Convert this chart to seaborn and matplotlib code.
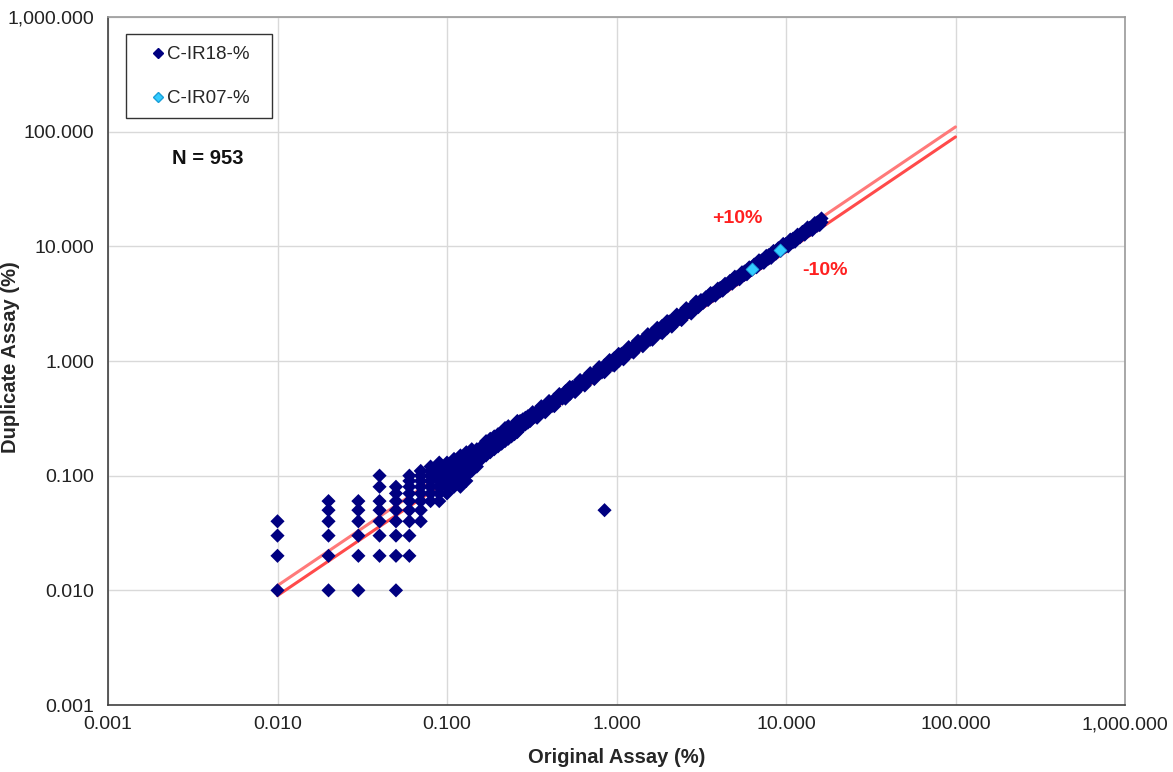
import numpy as np
import pandas as pd
import matplotlib
matplotlib.use("Agg")
import matplotlib.pyplot as plt
import seaborn as sns
from matplotlib.ticker import FuncFormatter, LogLocator, NullLocator
from matplotlib.lines import Line2D
from matplotlib.patches import Rectangle

# ---------------- data ----------------
# low-grade grid (original value -> list of duplicate values)
low_orig = [0.01, 0.02, 0.03, 0.04, 0.05, 0.06, 0.07, 0.08, 0.09, 0.10]
low_dups = [
    [0.01, 0.02, 0.03, 0.04],
    [0.01, 0.02, 0.03, 0.04, 0.05, 0.06],
    [0.01, 0.02, 0.03, 0.04, 0.05, 0.06],
    [0.02, 0.03, 0.04, 0.05, 0.06, 0.08, 0.10],
    [0.01, 0.02, 0.03, 0.04, 0.05, 0.06, 0.07, 0.08],
    [0.02, 0.03, 0.04, 0.05, 0.06, 0.07, 0.08, 0.09, 0.10],
    [0.04, 0.05, 0.06, 0.07, 0.08, 0.09, 0.10, 0.11],
    [0.06, 0.07, 0.08, 0.09, 0.10, 0.11, 0.12],
    [0.06, 0.07, 0.08, 0.09, 0.10, 0.11, 0.12, 0.13],
    [0.07, 0.08, 0.09, 0.10, 0.11, 0.12, 0.13],
]

mid_orig = [0.11, 0.12, 0.13, 0.14, 0.15, 0.16, 0.17, 0.18, 0.19, 0.20,
            0.21, 0.22, 0.23, 0.24, 0.25, 0.26, 0.27, 0.28, 0.29, 0.30]
mid_dups = [
    [0.08, 0.09, 0.10, 0.11, 0.12, 0.13, 0.14],
    [0.08, 0.09, 0.10, 0.12, 0.13, 0.14, 0.15],
    [0.09, 0.10, 0.11, 0.13, 0.14, 0.15, 0.16],
    [0.11, 0.12, 0.14, 0.15, 0.16, 0.17],
    [0.12, 0.13, 0.15, 0.16, 0.17],
    [0.14, 0.16, 0.17, 0.18],
    [0.15, 0.17, 0.18, 0.20],
    [0.16, 0.18, 0.19, 0.21],
    [0.17, 0.19, 0.20, 0.22],
    [0.18, 0.20, 0.21, 0.23],
    [0.19, 0.21, 0.22, 0.24],
    [0.20, 0.22, 0.24, 0.26],
    [0.21, 0.23, 0.25, 0.27],
    [0.22, 0.24, 0.26],
    [0.23, 0.25, 0.27, 0.28],
    [0.24, 0.26, 0.28, 0.30],
    [0.26, 0.28, 0.30],
    [0.27, 0.29, 0.31],
    [0.28, 0.30, 0.32],
    [0.29, 0.31, 0.33],
]

high_orig = [0.31, 0.32, 0.33, 0.34, 0.35, 0.36, 0.37, 0.38, 0.39, 0.40,
             0.42, 0.43, 0.45, 0.46, 0.48, 0.50, 0.51, 0.53, 0.55, 0.57,
             0.59, 0.61, 0.63, 0.65, 0.67, 0.70, 0.72, 0.74, 0.77, 0.79,
             0.82, 0.85, 0.88, 0.91, 0.94, 0.97, 1.00, 1.03, 1.07, 1.10,
             1.14, 1.18, 1.22, 1.26, 1.30, 1.34, 1.39, 1.43, 1.48, 1.53,
             1.58, 1.63, 1.69, 1.74, 1.80, 1.86, 1.92, 1.99, 2.05, 2.12,
             2.19, 2.27, 2.34, 2.42, 2.50, 2.58, 2.67, 2.76, 2.85, 2.95,
             3.04, 3.15, 3.25, 3.36, 3.47, 3.59, 3.71, 3.83, 3.96, 4.09,
             4.23, 4.37, 4.52, 4.67, 4.82, 4.99, 5.15, 5.32, 5.50, 5.69,
             5.88, 6.07, 6.28, 6.49, 6.70, 6.93, 7.16, 7.40, 7.65, 7.90,
             8.17, 8.44, 8.72, 9.01, 9.31, 9.63, 9.95, 10.3, 10.6, 11.0,
             11.3, 11.7, 12.1, 12.5, 12.9, 13.4, 13.8, 14.3, 14.8, 15.3,
             15.8, 16.2]
high_dup_lo = [0.300, 0.320, 0.327, 0.347, 0.343, 0.364, 0.370, 0.369, 0.398, 0.396,
               0.407, 0.430, 0.446, 0.469, 0.470, 0.505, 0.510, 0.514, 0.561, 0.564,
               0.572, 0.610, 0.624, 0.663, 0.657, 0.707, 0.720, 0.718, 0.785, 0.782,
               0.795, 0.850, 0.871, 0.928, 0.921, 0.980, 1.000, 0.999, 1.091, 1.089,
               1.106, 1.180, 1.208, 1.285, 1.274, 1.353, 1.390, 1.387, 1.510, 1.515,
               1.533, 1.630, 1.673, 1.775, 1.764, 1.879, 1.920, 1.930, 2.091, 2.099,
               2.124, 2.270, 2.317, 2.468, 2.450, 2.606, 2.670, 2.677, 2.907, 2.921,
               2.949, 3.150, 3.218, 3.427, 3.401, 3.626, 3.710, 3.715, 4.039, 4.049,
               4.103, 4.370, 4.475, 4.763, 4.724, 5.040, 5.150, 5.160, 5.610, 5.633,
               5.704, 6.070, 6.217, 6.620, 6.566, 6.999, 7.160, 7.178, 7.803, 7.821,
               7.925, 8.440, 8.633, 9.190, 9.124, 9.726, 9.950, 9.990, 10.81, 10.89,
               10.96, 11.70, 11.98, 12.75, 12.64, 13.53, 13.80, 13.87, 15.10, 15.15,
               15.33, 16.20]
high_dup_hi = [0.326, 0.346, 0.343, 0.364, 0.371, 0.392, 0.389, 0.395, 0.421, 0.424,
               0.441, 0.464, 0.468, 0.492, 0.509, 0.545, 0.536, 0.551, 0.594, 0.604,
               0.620, 0.659, 0.655, 0.696, 0.710, 0.763, 0.756, 0.770, 0.832, 0.837,
               0.861, 0.918, 0.915, 0.974, 0.996, 1.057, 1.050, 1.071, 1.156, 1.166,
               1.197, 1.274, 1.269, 1.348, 1.378, 1.461, 1.460, 1.487, 1.598, 1.622,
               1.659, 1.760, 1.758, 1.862, 1.908, 2.027, 2.016, 2.070, 2.214, 2.247,
               2.300, 2.452, 2.434, 2.589, 2.650, 2.812, 2.804, 2.870, 3.078, 3.127,
               3.192, 3.402, 3.380, 3.595, 3.678, 3.913, 3.896, 3.983, 4.277, 4.335,
               4.442, 4.720, 4.701, 4.997, 5.109, 5.439, 5.408, 5.533, 5.940, 6.031,
               6.174, 6.556, 6.531, 6.944, 7.102, 7.554, 7.518, 7.696, 8.262, 8.374,
               8.579, 9.115, 9.069, 9.641, 9.869, 10.50, 10.45, 10.71, 11.45, 11.66,
               11.87, 12.64, 12.58, 13.38, 13.67, 14.61, 14.49, 14.87, 15.98, 16.22,
               16.59, 17.50]

extra_orig = [0.32, 0.34, 0.36, 0.38, 0.40, 0.43, 0.46, 0.50, 0.53, 0.57,
              0.61, 0.65, 0.70, 0.74, 0.79, 0.85, 0.91, 0.97, 1.03, 1.10,
              1.18, 1.26, 1.34, 1.43, 1.53, 1.63, 1.74, 1.86, 1.99, 2.12,
              2.27, 2.42, 2.58, 2.76, 2.95]
extra_dup = [0.358, 0.320, 0.403, 0.357, 0.448, 0.404, 0.515, 0.470, 0.594, 0.536,
             0.683, 0.611, 0.784, 0.696, 0.885, 0.799, 1.019, 0.912, 1.154, 1.034,
             1.322, 1.184, 1.501, 1.344, 1.714, 1.532, 1.949, 1.748, 2.229, 1.993,
             2.542, 2.275, 2.890, 2.594, 3.304]

outlier_orig = [0.85]
outlier_dup = [0.05]

ir07_orig = [6.26, 9.16]
ir07_dup = [6.34, 9.29]

line_x = [0.01, 100.0]
plus10_y = [0.011, 110.0]
minus10_y = [0.009, 90.0]

series_names = ["C-IR18-%", "C-IR07-%"]
n_label = "N = 953"

# ---------------- build table ----------------
xs, ys = [], []
for o, ds in zip(low_orig + mid_orig, low_dups + mid_dups):
    for d in ds:
        xs.append(o)
        ys.append(d)
xs += high_orig + high_orig + extra_orig + outlier_orig
ys += high_dup_lo + high_dup_hi + extra_dup + outlier_dup
df18 = pd.DataFrame({"orig": xs, "dup": ys, "series": series_names[0]})
df07 = pd.DataFrame({"orig": ir07_orig, "dup": ir07_dup, "series": series_names[1]})

# ---------------- style ----------------
sns.set_style("white")
plt.rcParams["font.family"] = ["Liberation Sans", "DejaVu Sans"]

W, H = 1173, 772
fig = plt.figure(figsize=(W / 100, H / 100), dpi=100)
ax = fig.add_axes([108 / W, 1 - 705 / H, (1125 - 108) / W, (705 - 17) / H])

ax.set_xscale("log")
ax.set_yscale("log")
ax.set_xlim(0.001, 1000)
ax.set_ylim(0.001, 1000)

sns.lineplot(x=line_x, y=plus10_y, ax=ax, color="#ff7a7a", lw=2.2, zorder=2)
sns.lineplot(x=line_x, y=minus10_y, ax=ax, color="#ff4a4a", lw=2.2, zorder=2)

sns.scatterplot(data=df18, x="orig", y="dup", ax=ax, marker="D", s=52,
                color="#000080", edgecolor="none", linewidth=0, zorder=3, legend=False)
sns.scatterplot(data=df07, x="orig", y="dup", ax=ax, marker="D", s=44,
                color="#33ccff", edgecolor="#1a9fd9", linewidth=0.5, zorder=4, legend=False)

fmt = FuncFormatter(lambda v, p: f"{v:,.3f}")
for axis in (ax.xaxis, ax.yaxis):
    axis.set_major_locator(LogLocator(base=10, numticks=10))
    axis.set_minor_locator(NullLocator())
    axis.set_major_formatter(fmt)

ax.grid(True, which="major", color="#d9d9d9", lw=1)
ax.set_axisbelow(True)
ax.tick_params(axis="both", which="major", direction="out", length=5,
               width=1, color="#808080", labelsize=14, labelcolor="#222222")
ax.tick_params(axis="x", pad=3)
ax.tick_params(axis="y", pad=5)
for side in ("left", "bottom"):
    ax.spines[side].set_color("#404040")
    ax.spines[side].set_linewidth(1.2)
for side in ("top", "right"):
    ax.spines[side].set_color("#9a9a9a")
    ax.spines[side].set_linewidth(1.2)

ax.set_xlabel("Original Assay (%)", fontsize=14.5, fontweight="bold")
ax.set_ylabel("Duplicate Assay (%)", fontsize=14.5, fontweight="bold")
ax.xaxis.set_label_coords(0.5, -0.063)
ax.yaxis.set_label_coords(-0.0865, 0.505)

# legend (frame drawn separately so the spacing matches the reference box)
fig.patches.append(Rectangle((126 / W, 1 - 118 / H), 146 / W, 84 / H,
                             transform=fig.transFigure, facecolor="white",
                             edgecolor="#333333", lw=1, zorder=5))
handles = [
    Line2D([], [], marker="D", ls="none", color="#000080", markersize=5),
    Line2D([], [], marker="D", ls="none", markerfacecolor="#33ccff",
           markeredgecolor="#1a9fd9", markersize=5),
]
leg = fig.legend(handles, series_names, loc="upper left",
                 bbox_to_anchor=(153 / W, 1 - 46 / H), bbox_transform=fig.transFigure,
                 frameon=False, fontsize=13.5, labelspacing=1.44,
                 handlelength=0.5, handletextpad=0.23, borderpad=0, borderaxespad=0)
leg.set_zorder(6)

fig.text(208 / W, 1 - 158 / H, n_label,
         ha="center", va="center", fontsize=14.5, fontweight="bold", color="#111111")

ax.text(5.17, 17.6, "+10%", color="#ff2020", fontsize=14, fontweight="bold",
        ha="center", va="center")
ax.text(16.9, 6.21, "-10%", color="#ff2020", fontsize=14, fontweight="bold",
        ha="center", va="center")

fig.savefig("out.png", dpi=100, facecolor="white")
